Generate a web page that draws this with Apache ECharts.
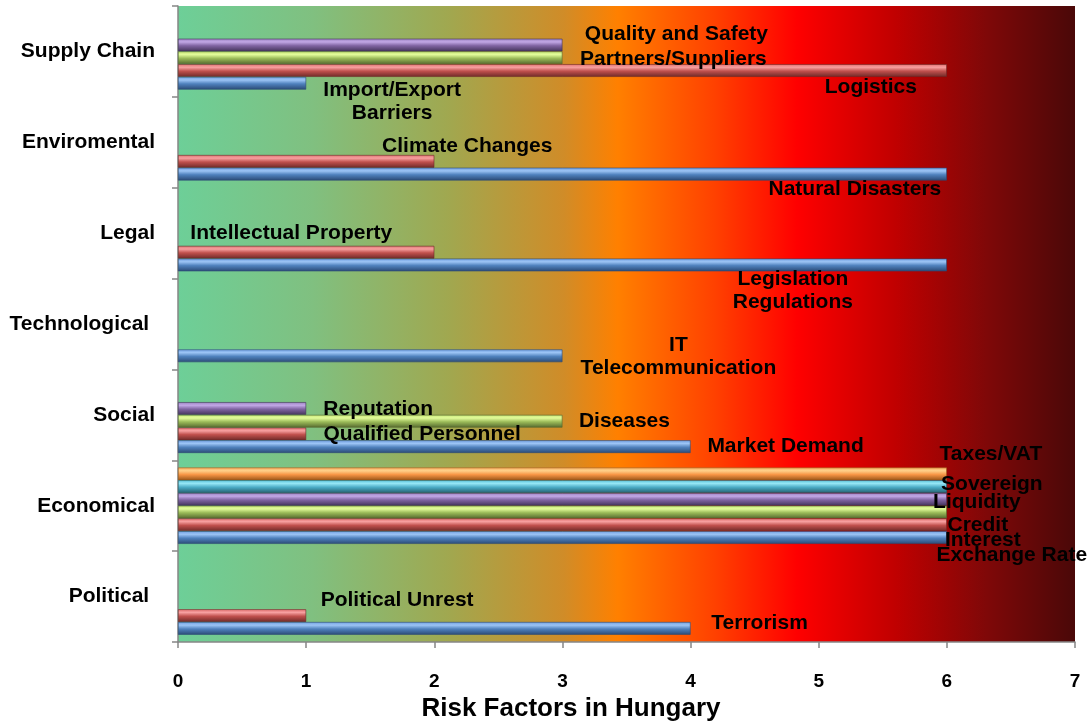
<!DOCTYPE html>
<html>
<head>
<meta charset="utf-8">
<script src="https://cdn.jsdelivr.net/npm/echarts@6/dist/echarts.min.js"></script>
<style>
html, body { margin: 0; padding: 0; background: #fff; }
#chart { width: 1089px; height: 722px; }
</style>
</head>
<body>
<div id="chart"></div>
<script>
// categories, bottom to top
var categories = ['Political ', 'Economical', 'Social', 'Technological ', 'Legal', 'Enviromental', 'Supply Chain'];
var xTicks = [0, 1, 2, 3, 4, 5, 6, 7];

// bar values, one array per colour slot
var blueValues   = [4, 6, 4, 3, 6, 6, 1];
var redValues    = [1, 6, 1, null, 2, 2, 6];
var greenValues  = [null, 6, 3, null, null, null, 3];
var purpleValues = [null, 6, 1, null, null, null, 3];
var cyanValues   = [null, 6, null, null, null, null, null];
var orangeValues = [null, 6, null, null, null, null, null];

// risk names shown next to the bars
var blueNames   = ['Terrorism', 'Exchange Rate', 'Market Demand', 'IT\nTelecommunication', 'Legislation\nRegulations', 'Natural Disasters', 'Import/Export\nBarriers'];
var redNames    = ['Political Unrest', 'Interest', 'Qualified Personnel', '', 'Intellectual Property', 'Climate Changes', 'Logistics'];
var greenNames  = ['', 'Credit', 'Diseases', '', '', '', 'Partners/Suppliers'];
var purpleNames = ['', 'Liquidity', 'Reputation', '', '', '', 'Quality and Safety'];
var cyanNames   = ['', 'Sovereign', '', '', '', '', ''];
var orangeNames = ['', 'Taxes/VAT', '', '', '', '', ''];

// label placement (offset of the label centre from the bar end)
var blueOffsets   = [[69, -5], [65, 18], [95, 0], [116, 1], [-154, 26], [-92, 15], [86, 18]];
var redOffsets    = [[91, -15], [36, 15], [116, 0], null, [-143, -19], [33, -15], [-76, 17]];
var greenOffsets  = [null, [31, 13], [62, 0], null, null, null, [111, 1]];
var purpleOffsets = [null, [30, 3], [72, 1], null, null, null, [114, -11]];
var cyanOffsets   = [null, [45, -2], null, null, null, null, null];
var orangeOffsets = [null, [44, -20], null, null, null, null, null];

var FONT = "'Liberation Sans', Arial, sans-serif";

function barFill(c0, hi, base, dark) {
	return new echarts.graphic.LinearGradient(0, 0, 0, 1, [
		{ offset: 0, color: c0 },
		{ offset: 0.25, color: hi },
		{ offset: 0.55, color: base },
		{ offset: 1, color: dark }
	]);
}

function makeSeries(values, names, offsets, fill, edge) {
	var data = values.map(function (v, i) {
		if (v == null) return '-';
		return {
			value: v,
			label: {
				show: true,
				formatter: names[i],
				offset: offsets[i] || [0, 0]
			}
		};
	});
	return {
		type: 'bar',
		data: data,
		barGap: '0%',
		barCategoryGap: '16%',
		itemStyle: { color: fill, borderColor: edge, borderWidth: 0.6 },
		label: {
			position: 'right',
			distance: 0,
			align: 'center',
			verticalAlign: 'middle',
			color: '#000',
			fontFamily: FONT,
			fontWeight: 'bold',
			fontSize: 21,
			lineHeight: 23
		},
		emphasis: { disabled: true }
	};
}

var chart = echarts.init(document.getElementById('chart'));
chart.setOption({
	animation: false,
	grid: {
		left: 178, right: 14, top: 6, bottom: 80,
		outerBoundsMode: 'none',
		containLabel: false,
		show: true,
		borderWidth: 0,
		backgroundColor: new echarts.graphic.LinearGradient(0, 0, 1, 0, [
			{ offset: 0, color: '#6dcf98' },
			{ offset: 0.15, color: '#80c080' },
			{ offset: 0.3, color: '#a0a850' },
			{ offset: 0.43, color: '#d08c28' },
			{ offset: 0.49, color: '#ff8000' },
			{ offset: 0.6, color: '#ff4000' },
			{ offset: 0.69, color: '#ff0000' },
			{ offset: 0.8, color: '#c00000' },
			{ offset: 0.9, color: '#800808' },
			{ offset: 1, color: '#4a0808' }
		])
	},
	xAxis: {
		type: 'value',
		min: xTicks[0],
		max: xTicks[xTicks.length - 1],
		interval: 1,
		name: 'Risk Factors in Hungary',
		nameLocation: 'middle',
		nameGap: 54,
		nameTextStyle: {
			color: '#000', fontFamily: FONT, fontWeight: 'bold', fontSize: 26,
			padding: [0, 111, 0, 0]
		},
		axisLine: { show: true, lineStyle: { color: '#868686', width: 1.5 } },
		axisTick: { show: true, length: 6, lineStyle: { color: '#868686', width: 1.5 } },
		splitLine: { show: false },
		axisLabel: {
			color: '#000', fontFamily: FONT, fontWeight: 'bold', fontSize: 19, margin: 30
		}
	},
	yAxis: {
		type: 'category',
		data: categories,
		axisLine: { show: true, lineStyle: { color: '#868686', width: 1.5 } },
		axisTick: { show: true, length: 6, lineStyle: { color: '#868686', width: 1.5 } },
		axisLabel: {
			color: '#000', fontFamily: FONT, fontWeight: 'bold', fontSize: 21, margin: 23
		}
	},
	// first series sits at the top of each band, so go from orange down to blue
	series: [
		makeSeries(orangeValues, orangeNames, orangeOffsets, barFill('#f8b060', '#ffd08a', '#f79646', '#9a5518'), '#9a5518'),
		makeSeries(cyanValues, cyanNames, cyanOffsets, barFill('#60c8e0', '#95e6f5', '#4bacc6', '#25606f'), '#25606f'),
		makeSeries(purpleValues, purpleNames, purpleOffsets, barFill('#9a80c0', '#c2a8e6', '#8064a2', '#43345a'), '#43345a'),
		makeSeries(greenValues, greenNames, greenOffsets, barFill('#c8e878', '#e2fb9a', '#9bbb59', '#55682e'), '#55682e'),
		makeSeries(redValues, redNames, redOffsets, barFill('#e07070', '#f7a0a0', '#c0504d', '#6e2a28'), '#6e2a28'),
		makeSeries(blueValues, blueNames, blueOffsets, barFill('#6f9ee0', '#9cc4f5', '#4f81bd', '#2b4a75'), '#2b4a75')
	]
});
</script>
</body>
</html>
